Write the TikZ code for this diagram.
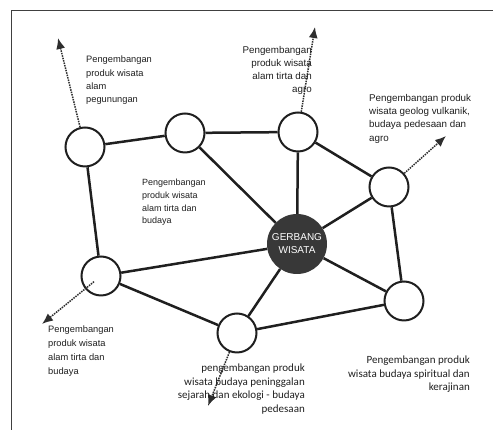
\documentclass[tikz,border=0pt]{standalone}
\usepackage{fontspec}
\setmainfont{Liberation Sans}
\newfontfamily\carlito{Carlito}
\usetikzlibrary{arrows.meta}
\tikzset{
    spot/.style={circle,draw=black!88,line width=2pt,fill=white,minimum size=39pt,inner sep=0pt},
    gate/.style={circle,fill=black!78,minimum size=60pt,inner sep=0pt,text=white,align=center,
        font=\fontsize{10}{13}\selectfont},
    link/.style={draw=black!88,line width=2.5pt},
    devarrow/.style={densely dotted,line width=1.5pt,draw=black!82,-{Latex[length=11pt,width=9pt]}},
    lbl/.style={inner sep=0pt,text=black!88},
}
\begin{document}
\begin{tikzpicture}[x=1pt,y=1pt]
        \useasboundingbox (0,0) rectangle (493,430);
        \draw[line width=1pt,black!75] (11,0) -- (11,419) -- (493,419);
        \node[gate] (gw) at (297,186) {GERBANG\\WISATA};
        \foreach \n/\x/\y in {n1/85/283,n2/185/297,n3/298/298,n4/389/243,n5/404/129,n6/101/154,n7/237/97} {
            \node[spot] (\n) at (\x,\y) {};
        }
        \foreach \a/\b in {n1/n2,n2/n3,n1/n6,n2/gw,n3/gw,n3/n4,n4/gw,n4/n5,gw/n5,gw/n6,gw/n7,n6/n7,n7/n5} {
            \draw[link] (\a) -- (\b);
        }
        % dotted development arrows
        \foreach \n/\x/\y in {n1/58/392,n3/315/403,n4/446/294,n7/208/24} {
            \coordinate (t\n) at (\x,\y);
            \draw[devarrow] (\n) -- (t\n);
        }
        \coordinate (tn6) at (42,106);
        \draw[devarrow,shorten <=9pt] (n6.center) -- (tn6);
        \node[lbl,anchor=north west,align=left,font=\fontsize{9.3}{13.3}\selectfont] (mtn) at (86,374)
            {Pengembangan\\produk wisata\\alam\\pegunungan};
        \node[lbl,anchor=north east,align=right,font=\fontsize{9.8}{13}\selectfont] (agro) at (312,384)
            {Pengembangan\\produk wisata\\alam tirta dan\\agro};
        \node[lbl,anchor=north west,align=left,font=\fontsize{9.8}{13.3}\selectfont] (vulk) at (369,336)
            {Pengembangan produk\\wisata geolog vulkanik,\\budaya pedesaan dan\\agro};
        \node[lbl,anchor=north west,align=left,font=\fontsize{9}{12.7}\selectfont] (tirta) at (142,251)
            {Pengembangan\\produk wisata\\alam tirta dan\\budaya};
        \node[lbl,anchor=north west,align=left,font=\fontsize{9.3}{14}\selectfont] (tirtab) at (48,104)
            {Pengembangan\\produk wisata\\alam tirta dan\\budaya};
        \node[lbl,anchor=north east,align=right,font=\carlito\fontsize{11}{13.5}\selectfont] (sejarah) at (305,66)
            {pengembangan produk\\wisata budaya peninggalan\\sejarah dan ekologi - budaya\\pedesaan};
        \node[lbl,anchor=north east,align=right,font=\carlito\fontsize{11}{13.5}\selectfont] (spirit) at (470,74)
            {Pengembangan produk\\wisata budaya spiritual dan\\kerajinan};
\end{tikzpicture}
\end{document}
